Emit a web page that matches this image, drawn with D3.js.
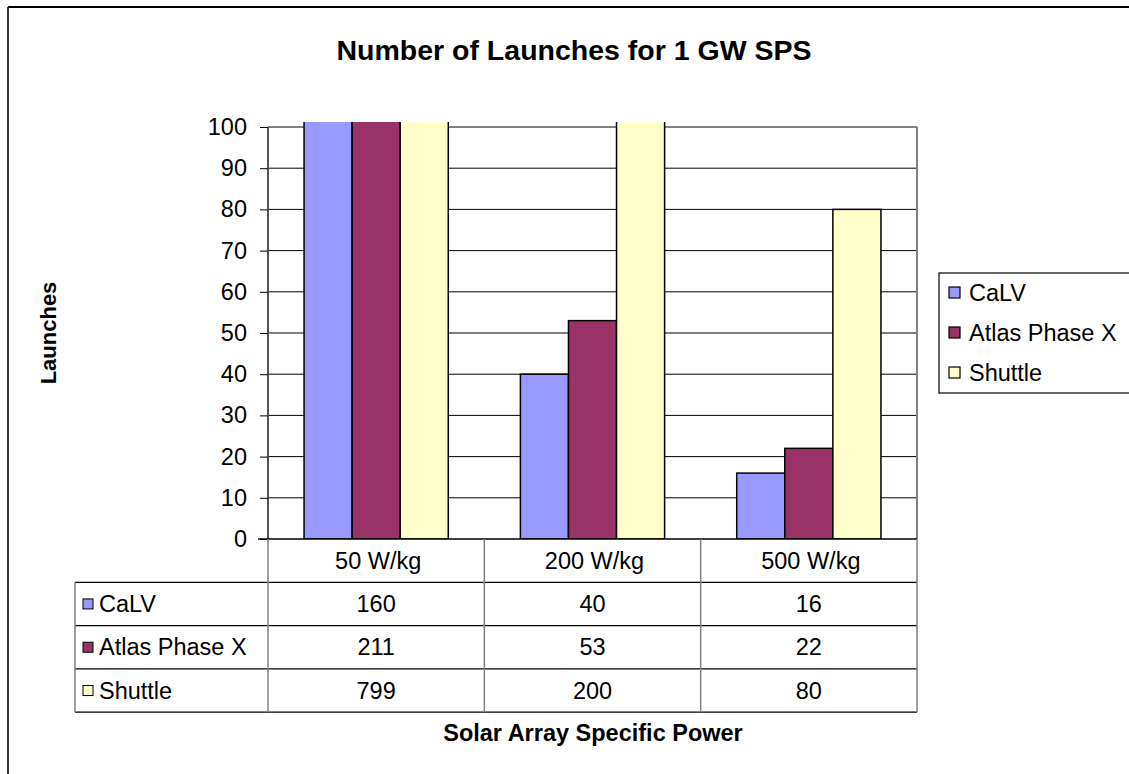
<!DOCTYPE html>
<html><head><meta charset="utf-8">
<script src="https://cdn.jsdelivr.net/npm/d3@7"></script>
<style>body{margin:0;background:#fff}svg{display:block}text{font-family:"Liberation Sans",Arial,sans-serif;fill:#000}</style>
</head><body><svg id="c" width="1129" height="774"></svg>
<script>
const categories = ["50 W/kg", "200 W/kg", "500 W/kg"];
const seriesNames = ["CaLV", "Atlas Phase X", "Shuttle"];
const calv = [160, 40, 16];
const atlas = [211, 53, 22];
const shuttle = [799, 200, 80];
const yTicks = [0, 10, 20, 30, 40, 50, 60, 70, 80, 90, 100];
const colors = ["#9999FF", "#993366", "#FFFFCC"];
const title = "Number of Launches for 1 GW SPS";
const xTitle = "Solar Array Specific Power";
const yTitle = "Launches";

const series = [calv, atlas, shuttle];
const svg = d3.select("#c");
const L = 268, R = 917, T = 127, B = 539;
const rowH = 43.3;
const tableLeft = 75;
const fs = 23.5;

// outer frame
svg.append("line").attr("x1", 8).attr("y1", 7).attr("x2", 1129).attr("y2", 7).attr("stroke", "#000").attr("stroke-width", 2);
svg.append("line").attr("x1", 8).attr("y1", 7).attr("x2", 8).attr("y2", 774).attr("stroke", "#333").attr("stroke-width", 2);

const y = d3.scaleLinear().domain([0, 100]).range([B, T]);
const x = d3.scaleBand().domain(categories).range([L, R]).padding(0);
const xs = d3.scaleBand().domain(seriesNames).range([x.bandwidth() / 6, x.bandwidth() * 5 / 6]).padding(0);

// gridlines
svg.append("g").selectAll("line").data(yTicks.filter(d => d > 0)).join("line")
  .attr("x1", L).attr("x2", R).attr("y1", d => y(d)).attr("y2", d => y(d))
  .attr("stroke", d => d === 100 ? "#808080" : "#000").attr("stroke-width", d => d === 100 ? 2 : 1);
// right border
svg.append("line").attr("x1", R).attr("x2", R).attr("y1", T).attr("y2", B).attr("stroke", "#808080").attr("stroke-width", 2);

// bars
svg.append("defs").append("clipPath").attr("id", "clip").append("rect")
  .attr("x", L).attr("y", T - 5).attr("width", R - L).attr("height", B - T + 5);
const bars = [];
series.forEach((vals, si) => vals.forEach((v, ci) => bars.push({s: seriesNames[si], c: categories[ci], v, si})));
svg.append("g").attr("clip-path", "url(#clip)").selectAll("rect").data(bars).join("rect")
  .attr("x", d => x(d.c) + xs(d.s)).attr("width", xs.bandwidth())
  .attr("y", d => y(d.v)).attr("height", d => B - y(d.v))
  .attr("fill", d => colors[d.si]).attr("stroke", "#000").attr("stroke-width", 1.5);

// y axis
const yAxis = d3.axisLeft(y).tickValues(yTicks).tickSize(8).tickPadding(13);
const ga = svg.append("g").attr("transform", `translate(${L},0)`).call(yAxis);
ga.select(".domain").attr("stroke", "#555").attr("stroke-width", 2).attr("d", `M0,${T}V${B}`);
ga.selectAll(".tick line").attr("stroke", "#000");
ga.selectAll(".tick text").attr("font-size", fs).attr("font-family", "Liberation Sans, Arial, sans-serif").attr("fill", "#000");

// data table
const tg = svg.append("g");
tg.append("line").attr("x1", L - 10).attr("x2", R).attr("y1", B).attr("y2", B).attr("stroke", "#000").attr("stroke-width", 1.5);
[1, 2, 3, 4].forEach(i => {
  tg.append("line").attr("x1", tableLeft).attr("x2", R).attr("y1", B + rowH * i).attr("y2", B + rowH * i).attr("stroke", "#000").attr("stroke-width", 1.3);
});
[L, ...categories.map(c => x(c) + x.bandwidth())].forEach(xx => {
  tg.append("line").attr("x1", xx).attr("x2", xx).attr("y1", B).attr("y2", B + rowH * 4).attr("stroke", "#808080").attr("stroke-width", 1.5);
});
tg.append("line").attr("x1", tableLeft).attr("x2", tableLeft).attr("y1", B + rowH).attr("y2", B + rowH * 4).attr("stroke", "#808080").attr("stroke-width", 1.5);
tg.selectAll("text.cat").data(categories).join("text").attr("class", "cat")
  .attr("x", d => x(d) + x.bandwidth() / 2 + 2).attr("y", B + rowH / 2 + 8).attr("text-anchor", "middle")
  .attr("font-size", fs).text(d => d);
seriesNames.forEach((name, si) => {
  const cy = B + rowH * (si + 1) + rowH / 2;
  tg.append("rect").attr("x", 83).attr("y", cy - 5).attr("width", 10).attr("height", 10)
    .attr("fill", colors[si]).attr("stroke", "#000").attr("stroke-width", 1);
  tg.append("text").attr("x", 99).attr("y", cy + 8).attr("font-size", fs).text(name);
  series[si].forEach((v, ci) => {
    tg.append("text").attr("x", x(categories[ci]) + x.bandwidth() / 2).attr("y", cy + 8)
      .attr("text-anchor", "middle").attr("font-size", fs).text(v);
  });
});

// legend
const lg = svg.append("g");
lg.append("rect").attr("x", 939).attr("y", 273).attr("width", 195).attr("height", 120).attr("fill", "#fff").attr("stroke", "#000").attr("stroke-width", 1.2);
seriesNames.forEach((name, i) => {
  const cy = 293 + i * 40;
  lg.append("rect").attr("x", 949).attr("y", cy - 6).attr("width", 11).attr("height", 11)
    .attr("fill", colors[i]).attr("stroke", "#000").attr("stroke-width", 1.2);
  lg.append("text").attr("x", 969).attr("y", cy + 8).attr("font-size", fs).text(name);
});

// titles
svg.append("text").attr("x", 574).attr("y", 60).attr("text-anchor", "middle").attr("font-size", 28.5).attr("font-weight", "bold").text(title);
svg.append("text").attr("x", 593).attr("y", 741).attr("text-anchor", "middle").attr("font-size", 23.5).attr("font-weight", "bold").text(xTitle);
svg.append("text").attr("transform", "translate(56,333) rotate(-90)").attr("text-anchor", "middle").attr("font-size", 22).attr("font-weight", "bold").text(yTitle);
</script></body></html>
